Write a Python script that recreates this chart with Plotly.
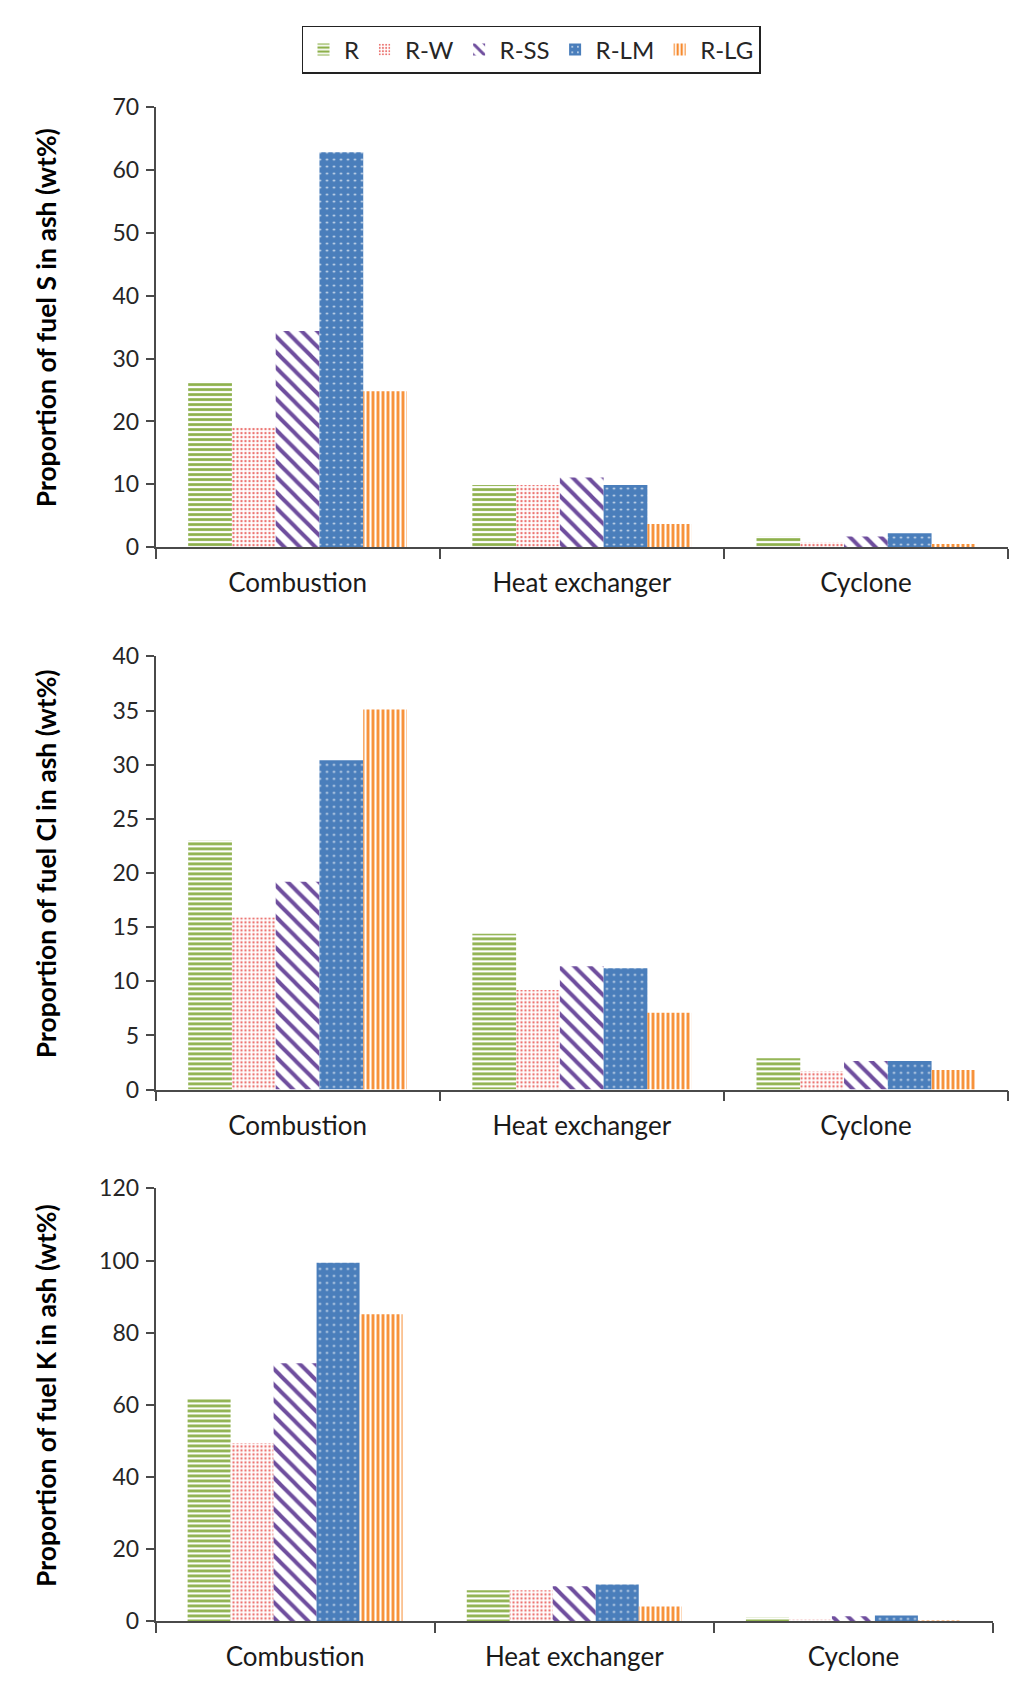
import plotly.graph_objects as go

categories = ["Combustion", "Heat exchanger", "Cyclone"]
series_names = ["R", "R-W", "R-SS", "R-LM", "R-LG"]

# Panel 1: fuel S
s_R = [26.3, 9.9, 1.8]
s_RW = [19.0, 9.9, 0.8]
s_RSS = [34.4, 11.1, 1.7]
s_RLM = [62.8, 9.9, 2.2]
s_RLG = [24.8, 3.7, 0.5]

# Panel 2: fuel Cl
cl_R = [23.0, 14.4, 2.9]
cl_RW = [15.9, 9.2, 1.7]
cl_RSS = [19.2, 11.4, 2.65]
cl_RLM = [30.4, 11.2, 2.65]
cl_RLG = [35.1, 7.1, 1.8]

# Panel 3: fuel K
k_R = [61.6, 8.6, 1.0]
k_RW = [49.4, 8.6, 0.4]
k_RSS = [71.5, 9.7, 1.4]
k_RLM = [99.4, 10.2, 1.6]
k_RLG = [85.1, 4.1, 0.1]

y_titles = ["Proportion of fuel S in ash (wt%)",
            "Proportion of fuel Cl in ash (wt%)",
            "Proportion of fuel K in ash (wt%)"]
y_max = [70, 40, 120]
y_dtick = [10, 5, 20]

panels = [
    [s_R, s_RW, s_RSS, s_RLM, s_RLG],
    [cl_R, cl_RW, cl_RSS, cl_RLM, cl_RLG],
    [k_R, k_RW, k_RSS, k_RLM, k_RLG],
]

W, H = 1024, 1696
OFF = 8  # page body margin
FONT = "Lato"
AXC = "#4a4a4a"

patterns = [
    dict(shape="-", fgcolor="#8DB04A", bgcolor="white", size=5, solidity=0.55, fgopacity=1),
    dict(shape=".", fgcolor="#EC7370", bgcolor="white", size=4, solidity=0.28, fgopacity=1),
    dict(shape="\\", fgcolor="#6F4E9E", bgcolor="white", size=11, solidity=0.36, fgopacity=1),
    dict(shape=".", fgcolor="#DCE6F2", bgcolor="#4A7EBB", size=7, solidity=0.08, fgopacity=1),
    dict(shape="|", fgcolor="#F68A2E", bgcolor="white", size=5, solidity=0.55, fgopacity=1),
]

# pixel geometry of panels in page px (top, bottom, right)
geom = [(93.5, 541.0, 1008.0), (652.0, 1092.5, 1008.0), (1193.0, 1633.0, 993.0)]
left_px = 155.5

fig = go.Figure()
for p, data in enumerate(panels):
    xa = "x" if p == 0 else f"x{p+1}"
    ya = "y" if p == 0 else f"y{p+1}"
    for i, name in enumerate(series_names):
        fig.add_trace(go.Bar(
            x=categories, y=data[i], name=name, xaxis=xa, yaxis=ya,
            marker=dict(color=patterns[i]["bgcolor"], pattern=patterns[i], line=dict(width=0)),
            showlegend=(p == 0), legendgroup=name,
        ))

layout = dict(
    width=W, height=H, autosize=False,
    margin=dict(l=0, r=0, t=0, b=0),
    paper_bgcolor="white", plot_bgcolor="white",
    barmode="group", bargap=0.23, bargroupgap=0,
    font=dict(family=FONT, color="#262626"),
    legend=dict(orientation="h", x=(531 - OFF) / W, xanchor="center", y=1 - (11 - OFF) / H, yanchor="top",
                bordercolor="#222222", borderwidth=1.5, bgcolor="white",
                font=dict(size=24, family=FONT, color="#262626"),
                itemwidth=31, traceorder="normal"),
    annotations=[],
)

for p in range(3):
    top, bot, right = geom[p]
    top -= OFF; bot -= OFF; right -= OFF
    lpx = left_px - OFF
    xk = "xaxis" if p == 0 else f"xaxis{p+1}"
    yk = "yaxis" if p == 0 else f"yaxis{p+1}"
    ya = "y" if p == 0 else f"y{p+1}"
    xa = "x" if p == 0 else f"x{p+1}"
    layout[xk] = dict(
        domain=[lpx / W, right / W], anchor=ya,
        type="category", tickson="boundaries", ticks="outside", ticklen=10,
        tickwidth=1.5, tickcolor=AXC, showline=True, linecolor=AXC, linewidth=1.5,
        showgrid=False, zeroline=False, ticklabelstandoff=12,
        tickfont=dict(size=26, family=FONT, color="#1a1a1a"),
    )
    layout[yk] = dict(
        domain=[1 - bot / H, 1 - top / H], anchor=xa,
        range=[0, y_max[p]], dtick=y_dtick[p], tick0=0,
        ticks="outside", ticklen=8, tickwidth=1.5, tickcolor=AXC,
        showline=True, linecolor=AXC, linewidth=1.5,
        showgrid=False, zeroline=False, ticklabelstandoff=2,
        tickfont=dict(size=23, family=FONT, color="#262626"),
    )
    layout["annotations"].append(dict(
        text=f"<b>{y_titles[p]}</b>", xref="paper", yref="paper",
        x=(46 - OFF) / W, y=1 - ((top + bot) / 2 - 9) / H, xanchor="center", yanchor="middle",
        textangle=-90, showarrow=False,
        font=dict(size=26.5, family=FONT, color="#000000"),
    ))

fig.update_layout(**layout)
fig.write_html("out.html")
